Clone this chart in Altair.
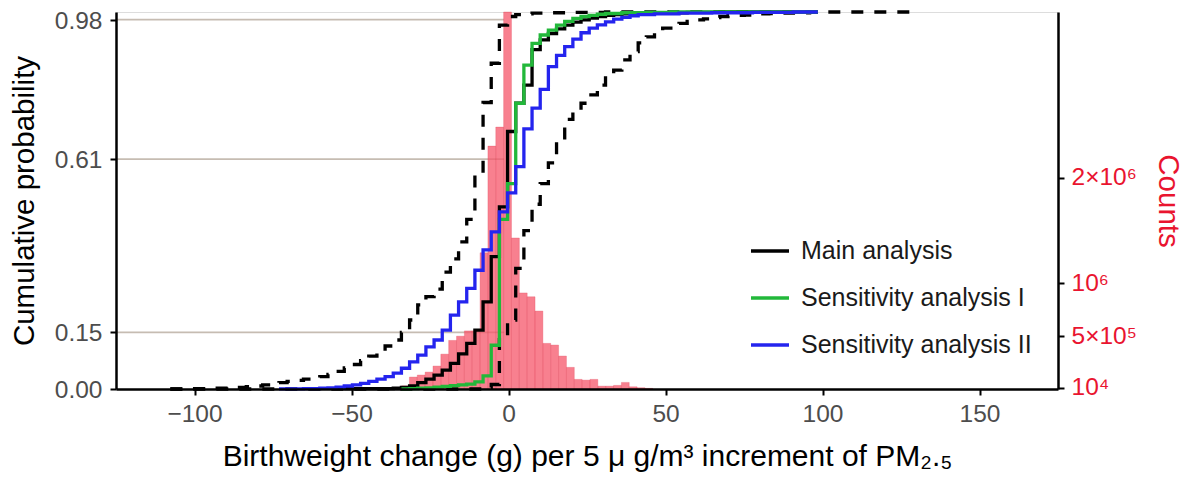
import altair as alt
import pandas as pd

FONT = "Liberation Sans"

# ---------------- axes / scales ----------------
X_DOMAIN = [-125, 175]
X_TICKS = [-100, -50, 0, 50, 100, 150]
P_DOMAIN = [0, 1.0]
P_TICKS = [0.0, 0.15, 0.61, 0.98]
COUNT_DOMAIN = [0, 3.57e6]
COUNT_TICKS = [1e4, 5e5, 1e6, 2e6]
COUNT_LABELS = ["10⁴", "5×10⁵", "10⁶", "2×10⁶"]

X_TITLE = "Birthweight change (g) per 5 μ g/m³ increment of PM₂.₅"
P_TITLE = "Cumulative probability"
C_TITLE = "Counts"

# reference lines at selected probabilities
GRID_LEVELS = [0.15, 0.61, 0.98]
GRID_END = -1.4

# ---------------- histogram (counts) ----------------
BIN_WIDTH = 2.5
BIN_START = [-36.55, -34.05, -31.55, -29.05, -26.55, -24.05, -21.55, -19.05,
             -16.55, -14.05, -11.55, -9.05, -6.55, -4.05, -1.55, 0.95, 3.45,
             5.95, 8.45, 10.95, 13.45, 15.95, 18.45, 20.95, 23.45, 25.95,
             28.45, 30.95, 33.45, 35.95, 38.45, 40.95, 43.45]
BIN_COUNT = [0.012e6, 0.03e6, 0.113e6, 0.132e6, 0.16e6, 0.217e6, 0.33e6,
             0.46e6, 0.5e6, 0.55e6, 0.55e6, 1.29e6, 2.30e6, 2.48e6, 3.57e6,
             1.43e6, 0.91e6, 0.873e6, 0.738e6, 0.432e6, 0.416e6, 0.312e6,
             0.205e6, 0.091e6, 0.084e6, 0.091e6, 0.027e6, 0.027e6, 0.034e6,
             0.0625e6, 0.021e6, 0.012e6, 0.006e6]

# ---------------- cumulative curves (step starts, probability) ----------------
SERIES = ["Main analysis", "Sensitivity analysis I", "Sensitivity analysis II"]
SERIES_COLORS = ["#000000", "#22B83A", "#2424EE"]

MAIN_X = [-52.3, -36.7, -34.1, -31.5, -28.9, -26.3, -23.7, -21.1, -18.5,
          -15.9, -13.3, -10.7, -8.1, -5.5, -2.9, -0.3, 2.3, 4.9, 7.5, 10.1, 12.7,
          15.3, 17.9, 20.5, 23.1, 25.7, 28.3, 30.9, 33.5, 36.1, 41.3, 49.1, 56.9,
          67.3, 98.5]
MAIN_P = [0.001, 0.002, 0.004, 0.008, 0.017, 0.026, 0.037, 0.05, 0.068,
          0.093, 0.121, 0.156, 0.231, 0.351, 0.483, 0.683, 0.758, 0.806, 0.9,
          0.926, 0.943, 0.955, 0.965, 0.973, 0.979, 0.984, 0.988, 0.991, 0.993,
          0.995, 0.997, 0.998, 0.999, 1.0, 1.0]

SENS1_X = [-34.1, -31.5, -28.9, -26.3, -23.7, -21.1, -18.5, -15.9, -13.3,
           -10.7, -8.1, -5.5, -2.9, -0.3, 2.3, 4.9, 7.5, 10.1, 12.7, 15.3, 17.9,
           20.5, 23.1, 25.7, 28.3, 30.9, 36.1, 43.9, 51.7, 98.5]
SENS1_P = [0.0005, 0.001, 0.002, 0.003, 0.005, 0.007, 0.009, 0.011, 0.013,
           0.019, 0.035, 0.116, 0.45, 0.545, 0.758, 0.859, 0.917, 0.939, 0.952,
           0.965, 0.975, 0.983, 0.988, 0.991, 0.994, 0.996, 0.998, 0.999, 1.0, 1.0]

SENS2_X = [-73.1, -65.3, -60.1, -57.5, -54.9, -52.3, -49.7, -47.1, -44.5,
           -41.9, -39.3, -36.7, -34.1, -31.5, -28.9, -26.3, -23.7, -21.1, -18.5,
           -15.9, -13.3, -10.7, -8.1, -5.5, -2.9, -0.3, 2.3, 4.9, 7.5, 10.1, 12.7,
           15.3, 17.9, 20.5, 23.1, 25.7, 28.3, 30.9, 33.5, 36.1, 38.7, 41.3, 46.5,
           54.3, 64.7, 77.7, 90.7, 98.5]
SENS2_P = [0.0005, 0.001, 0.002, 0.003, 0.005, 0.008, 0.011, 0.015, 0.02,
           0.026, 0.033, 0.042, 0.055, 0.072, 0.09, 0.112, 0.13, 0.156, 0.196,
           0.231, 0.267, 0.315, 0.369, 0.417, 0.47, 0.52, 0.59, 0.69, 0.745,
           0.795, 0.855, 0.885, 0.908, 0.928, 0.945, 0.957, 0.966, 0.974, 0.981,
           0.986, 0.99, 0.993, 0.995, 0.997, 0.998, 0.999, 1.0, 1.0]

LOWER_X = [-107.7, -101.7, -93.9, -88.7, -83.5, -80.9, -78.3, -75.7, -73.1, -70.5,
           -67.9, -65.3, -62.7, -60.1, -57.5, -54.9, -52.3, -49.7, -47.1, -44.5,
           -41.9, -39.3, -36.7, -34.1, -31.5, -28.9, -26.3, -23.7, -21.1, -18.5,
           -15.9, -13.3, -10.7, -8.1, -5.5, -2.9, -0.3, 2.3, 4.9, 7.5, 12.7, 20.5,
           30.9, 130.6]
LOWER_P = [0.0, 0.001, 0.002, 0.004, 0.006, 0.008, 0.011, 0.014, 0.017, 0.02,
           0.023, 0.026, 0.029, 0.033, 0.039, 0.047, 0.056, 0.065, 0.075, 0.087,
           0.099, 0.114, 0.13, 0.15, 0.183, 0.223, 0.245, 0.265, 0.31, 0.345,
           0.39, 0.45, 0.57, 0.76, 0.864, 0.965, 0.988, 0.993, 0.995, 0.997,
           0.998, 0.999, 1.0, 1.0]

UPPER_X = [-107.7, -8.1, -5.5, -2.9, -0.3, 2.3, 4.9, 7.5, 10.1, 12.7, 15.3, 17.9,
           20.5, 23.1, 25.7, 28.3, 30.9, 33.5, 36.1, 38.7, 41.3, 43.9, 46.5, 49.1,
           51.7, 54.3, 56.9, 59.5, 62.1, 64.7, 67.3, 69.9, 72.5, 75.1, 77.7, 80.3,
           82.9, 85.5, 90.7, 95.9, 101.1]
UPPER_P = [0.0, 0.004, 0.012, 0.14, 0.183, 0.32, 0.42, 0.49, 0.545, 0.6, 0.66,
           0.715, 0.74, 0.758, 0.78, 0.806, 0.83, 0.846, 0.873, 0.895, 0.918,
           0.934, 0.945, 0.957, 0.963, 0.97, 0.975, 0.979, 0.982, 0.985, 0.988,
           0.99, 0.991, 0.992, 0.994, 0.995, 0.996, 0.997, 0.998, 0.999, 1.0]

# ---------------- data frames ----------------
def curve(name, xs, ps):
    return pd.DataFrame([{"series": name, "x": a, "p": b} for a, b in zip(xs, ps, strict=True)])

solid_df = pd.concat([curve(SERIES[0], MAIN_X, MAIN_P),
                      curve(SERIES[1], SENS1_X, SENS1_P),
                      curve(SERIES[2], SENS2_X, SENS2_P)], ignore_index=True)
dashed_df = pd.concat([curve("lower", LOWER_X, LOWER_P),
                       curve("upper", UPPER_X, UPPER_P)], ignore_index=True)
hist_df = pd.DataFrame({"x": BIN_START, "n": BIN_COUNT})
grid_df = pd.DataFrame({"p": GRID_LEVELS, "x": [X_DOMAIN[0]] * len(GRID_LEVELS),
                        "x_end": [GRID_END] * len(GRID_LEVELS)})

# ---------------- shared encodings ----------------
GREY = "#4D4D4D"
RED = "#E9142F"

x_axis = alt.Axis(values=X_TICKS, title=X_TITLE, titleFontSize=30, titleFont=FONT,
                  titleFontWeight="normal", titleColor="#000000",
                  titleBaseline="alphabetic", titleY=76,
                  labelFontSize=24.5, labelFont=FONT, labelColor=GREY, labelPadding=7,
                  tickSize=6, tickWidth=2, tickColor="#000000",
                  domainColor="#000000", domainWidth=2.5, grid=False, zindex=1)
x_scale = alt.Scale(domain=X_DOMAIN, nice=False, zero=False)

def X():
    return alt.X("x:Q", scale=x_scale, axis=x_axis)

p_scale = alt.Scale(domain=P_DOMAIN, nice=False, zero=False)

left_axis = alt.Axis(orient="left", values=P_TICKS, format=".2f", title=P_TITLE,
                     titleFontSize=29.5, titleFont=FONT, titleFontWeight="normal",
                     titleColor="#000000", titleBaseline="alphabetic",
                     titleX=-83, titleY=188.5, titleAngle=270,
                     labelFontSize=24.5, labelFont=FONT, labelColor=GREY, labelPadding=8,
                     labelOffset=1.5,
                     tickSize=6, tickWidth=2, tickColor="#000000",
                     domainColor="#000000", domainWidth=2.5, grid=False, zindex=1)

right_axis = alt.Axis(orient="right", values=COUNT_TICKS,
                      labelExpr=" : ".join(
                          [f"datum.value == {v} ? '{l}'" for v, l in zip(COUNT_TICKS[:-1], COUNT_LABELS[:-1])]
                          + [f"'{COUNT_LABELS[-1]}'"]),
                      title=C_TITLE, titleFontSize=29.5, titleFont=FONT,
                      titleFontWeight="normal", titleColor=RED,
                      titleBaseline="alphabetic", titleX=100, titleY=188.5, titleAngle=90,
                      labelFontSize=24.5, labelFont=FONT, labelColor=RED, labelPadding=7,
                      tickSize=6, tickWidth=2, tickColor="#000000",
                      domainColor="#000000", domainWidth=2.5, grid=False, zindex=1)

# ---------------- layers ----------------
grid_layer = alt.Chart(grid_df).mark_rule(color="#C6BCB2", strokeWidth=1.7).encode(
    x=X(), x2="x_end:Q",
    y=alt.Y("p:Q", scale=p_scale, axis=left_axis),
)

hist_layer = alt.Chart(hist_df).transform_calculate(
    x_end=f"datum.x + {BIN_WIDTH}"
).mark_rect(fill="#F5566A", fillOpacity=0.75, stroke="#E0485C",
            strokeWidth=0.6, strokeOpacity=0.5).encode(
    x=X(), x2="x_end:Q",
    y=alt.Y("n:Q", scale=alt.Scale(domain=COUNT_DOMAIN, nice=False), axis=right_axis),
    y2=alt.datum(0),
)

dashed_layer = alt.Chart(dashed_df).mark_line(
    interpolate="step-after", color="#000000", strokeWidth=3.3, strokeDash=[12, 11]
).encode(
    x=X(),
    y=alt.Y("p:Q", scale=p_scale, axis=None),
    detail="series:N",
)

solid_layer = alt.Chart(solid_df).mark_line(
    interpolate="step-after", strokeWidth=3.3
).encode(
    x=X(),
    y=alt.Y("p:Q", scale=p_scale, axis=None),
    color=alt.Color("series:N", scale=alt.Scale(domain=SERIES, range=SERIES_COLORS),
                    legend=alt.Legend(title=None, orient="none", legendX=633, legendY=218,
                                      symbolType="stroke", symbolSize=1444,
                                      symbolStrokeWidth=3.3, labelFontSize=25,
                                      labelFont=FONT, labelColor="#1A1A1A", labelLimit=0,
                                      labelOffset=10, rowPadding=13, padding=0)),
)

chart = alt.layer(grid_layer, hist_layer, dashed_layer, solid_layer).resolve_scale(
    y="independent"
).properties(
    width=942, height=377,
    autosize=alt.AutoSizeParams(type="none"),
    padding={"left": 108, "top": 4, "right": 126, "bottom": 84},
).configure_view(stroke=None).configure(font=FONT)

chart.save("out.html", embed_options={"renderer": "svg", "actions": False})
